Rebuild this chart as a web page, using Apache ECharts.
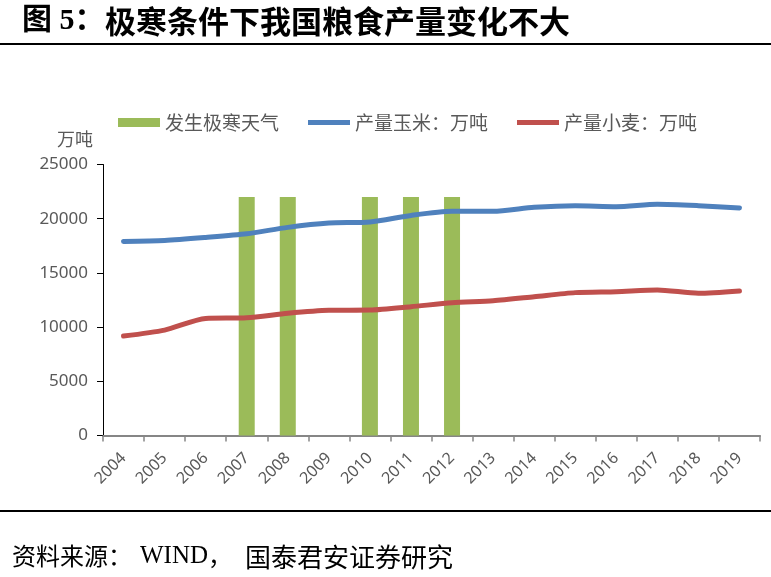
<!DOCTYPE html>
<html>
<head>
<meta charset="utf-8">
<script src="https://cdn.jsdelivr.net/npm/echarts@6/dist/echarts.min.js"></script>
<style>
html,body{margin:0;padding:0;background:#fff;}
#chart{width:771px;height:577px;}
</style>
</head>
<body>
<div id="chart"></div>
<script>
var years = ['2004','2005','2006','2007','2008','2009','2010','2011','2012','2013','2014','2015','2016','2017','2018','2019'];
var coldEvent = [null, null, null, 22000, 22000, null, 22000, 22000, 22000, null, null, null, null, null, null, null];
var cornOutput = [17900, 17990, 18270, 18610, 19200, 19600, 19700, 20300, 20680, 20680, 21050, 21200, 21110, 21330, 21200, 20990];
var wheatOutput = [9170, 9720, 10800, 10860, 11270, 11545, 11570, 11880, 12250, 12430, 12800, 13180, 13270, 13430, 13120, 13330];
var yTicks = {min: 0, max: 25000, interval: 5000};
var seriesNames = ['发生极寒天气', '产量玉米：万吨', '产量小麦：万吨'];

var chart = echarts.init(document.getElementById('chart'), null, {renderer: 'canvas'});
var cjk = '"Noto Sans CJK SC", "Noto Sans", sans-serif';
var serifCjk = '"Liberation Serif", "Noto Sans CJK SC", serif';
var lineIcon = 'path://M0,0 L44,0 L44,5 L0,5 Z';

chart.setOption({
  backgroundColor: '#ffffff',
  animation: false,
  grid: {left: 103, right: 11, top: 164.5, bottom: 141.5, containLabel: false},
  legend: {
    left: 118, top: 113, padding: 0,
    itemWidth: 42, itemHeight: 9, itemGap: 29,
    symbolKeepAspect: true,
    textStyle: {fontSize: 19, color: '#595959', fontFamily: cjk},
    data: [
      {name: seriesNames[0], icon: 'rect'},
      {name: seriesNames[1], icon: lineIcon},
      {name: seriesNames[2], icon: lineIcon}
    ]
  },
  xAxis: {
    type: 'category',
    data: years,
    boundaryGap: true,
    axisLine: {lineStyle: {color: '#868686', width: 2}},
    axisTick: {show: true, length: 6, lineStyle: {color: '#868686', width: 1.5}},
    axisLabel: {rotate: 45, fontSize: 16, color: '#595959', margin: 20, fontFamily: '"Noto Sans", sans-serif', interval: 0},
    splitLine: {show: false}
  },
  yAxis: {
    type: 'value',
    min: yTicks.min, max: yTicks.max, interval: yTicks.interval,
    axisLine: {show: true, lineStyle: {color: '#000000', width: 1}},
    axisTick: {show: true, length: 6, lineStyle: {color: '#000000'}},
    axisLabel: {fontSize: 17, color: '#595959', margin: 15, fontFamily: '"Noto Sans", sans-serif',
      formatter: function (v) { return String(v); }},
    splitLine: {show: false}
  },
  graphic: [
    {type: 'text', left: 22, top: 6, style: {text: '图 5：', font: 'bold 30px ' + serifCjk, fill: '#000'}},
    {type: 'text', left: 105, top: 6, style: {text: '极寒条件下我国粮食产量变化不大', font: 'bold 31px ' + cjk, fill: '#000'}},
    {type: 'rect', shape: {x: 0, y: 43, width: 771, height: 2}, style: {fill: '#000'}},
    {type: 'text', left: 57, top: 130, style: {text: '万吨', font: '18px ' + cjk, fill: '#595959'}},
    {type: 'rect', shape: {x: 0, y: 510, width: 771, height: 2}, style: {fill: '#000'}},
    {type: 'text', left: 12, top: 544, style: {text: '资料来源：', font: '24px ' + cjk, fill: '#000'}},
    {type: 'text', left: 140, top: 544, style: {text: 'WIND', font: '25px "Liberation Serif", serif', fill: '#000'}},
    {type: 'text', left: 208, top: 544, style: {text: '，', font: '24px ' + cjk, fill: '#000'}},
    {type: 'text', left: 245, top: 544, style: {text: '国泰君安证券研究', font: '26px ' + cjk, fill: '#000'}}
  ],
  series: [
    {
      name: seriesNames[0], type: 'bar', data: coldEvent, barWidth: 16,
      itemStyle: {color: '#9BBB59'}, z: 1
    },
    {
      name: seriesNames[1], type: 'line', data: cornOutput, smooth: 0.25,
      symbol: 'none', lineStyle: {color: '#4F81BD', width: 5, cap: 'round'},
      itemStyle: {color: '#4F81BD'}, z: 3
    },
    {
      name: seriesNames[2], type: 'line', data: wheatOutput, smooth: 0.25,
      symbol: 'none', lineStyle: {color: '#C0504D', width: 5, cap: 'round'},
      itemStyle: {color: '#C0504D'}, z: 3
    }
  ]
});
</script>
</body>
</html>
